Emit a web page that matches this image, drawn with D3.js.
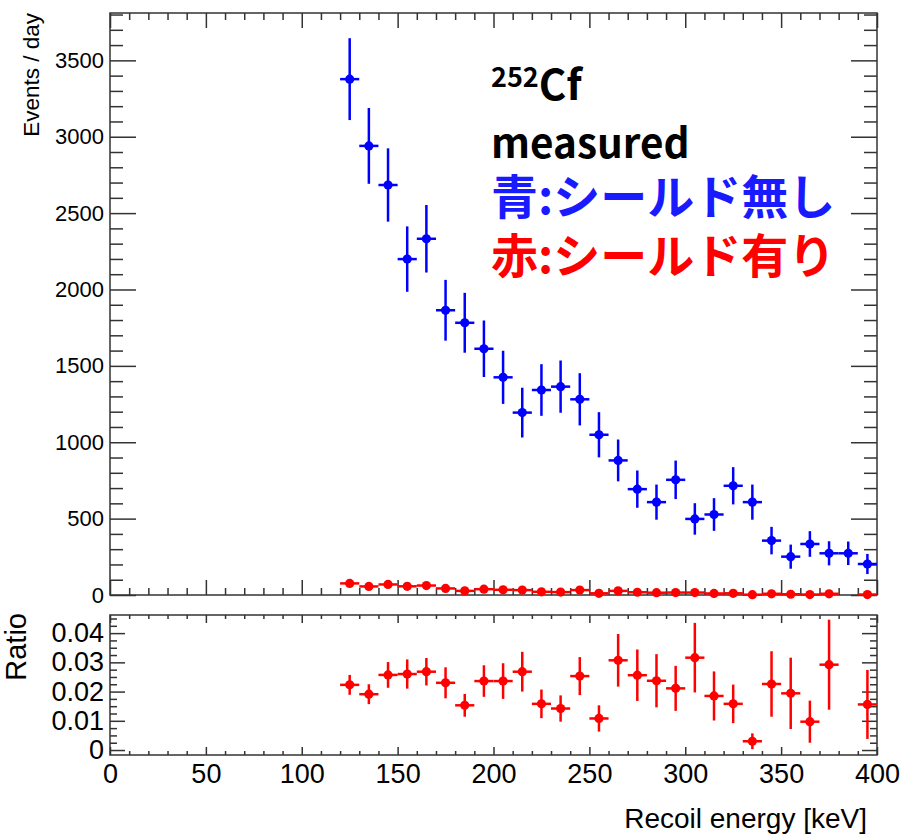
<!DOCTYPE html>
<html><head><meta charset="utf-8">
<script src="https://cdn.jsdelivr.net/npm/d3@7"></script>
<style>html,body{margin:0;padding:0;background:#fff;}</style>
</head><body>
<script>
// ---- data ----
const energies = [125,135,145,155,165,175,185,195,205,215,225,235,245,255,265,275,285,295,305,315,325,335,345,355,365,375,385,395];
const binHalfWidth = 5;
const blueVals = [3377,2940,2684,2199,2332,1864,1782,1612,1425,1194,1342,1364,1281,1049,881,693,608,754,498,527,715,608,356,251,334,273,273,203];
const blueErrs = [268,248,240,214,221,199,196,185,174,163,169,171,171,148,137,122,115,126,103,107,122,115,90,79,84,79,77,66];
const redVals  = [76,56,69,57,62,43,27,38,34,32,21,19,32,11,27,18,15,16,16,10,11,2,8,5,3,8,null,3];
const ratioVals = [0.0223,0.0191,0.0257,0.0260,0.0268,0.0230,0.0153,0.0236,0.0236,0.0268,0.0158,0.0142,0.0253,0.0108,0.0307,0.0256,0.0237,0.0211,0.0316,0.0185,0.0158,0.0030,0.0226,0.0194,0.0097,0.0292,null,0.0156];
const ratioErrs = [0.0034,0.0034,0.0044,0.0050,0.0047,0.0053,0.0039,0.0054,0.0061,0.0068,0.0049,0.0045,0.0065,0.0045,0.0090,0.0088,0.0091,0.0077,0.0119,0.0084,0.0066,0.0027,0.0112,0.0122,0.0072,0.0154,null,0.0118];
const xTicks = [0,50,100,150,200,250,300,350,400];
const yTopTicks = [0,500,1000,1500,2000,2500,3000,3500];
const yRatioTicks = [0,0.01,0.02,0.03,0.04];
const yRatioLabels = ["0","0.01","0.02","0.03","0.04"];

const W = 903, H = 837;
const svg = d3.select("body").append("svg").attr("width", W).attr("height", H)
  .style("font-family", "'Liberation Sans', Arial, sans-serif");

const x = d3.scaleLinear().domain([0, 400]).range([110, 877]);
const yTop = d3.scaleLinear().domain([0, 3810]).range([595, 13]);
const yR = d3.scaleLinear().domain([-0.0017, 0.0462]).range([755, 615]);

const FR = "#333";
const xMinor = d3.range(0, 401, 10).filter(v => v % 50 !== 0);
const yTopMinor = d3.range(100, 3801, 100).filter(v => v % 500 !== 0);
const yRMinor = d3.range(0, 0.0461, 0.0025).map(v => +v.toFixed(4)).filter(v => Math.abs(v*100 - Math.round(v*100)) > 1e-6);

function styleAxis(g, size) {
  g.select(".domain").remove();
  g.selectAll(".tick line").attr("stroke", FR).attr("stroke-width", 1.5);
  g.selectAll("text").attr("fill", "#000").attr("font-size", size)
    .attr("font-family", "'Liberation Sans', Arial, sans-serif");
}

function ticksY(scale, major, minor, majLen, minLen, x0, x1, labels, fsize, fmt) {
  svg.append("g").attr("transform", `translate(${x0},0)`)
    .call(d3.axisLeft(scale).tickValues(major).tickSizeInner(-majLen).tickSizeOuter(0).tickPadding(6)
      .tickFormat(labels ? fmt : () => ""))
    .call(g => styleAxis(g, fsize));
  svg.append("g").attr("transform", `translate(${x0},0)`)
    .call(d3.axisLeft(scale).tickValues(minor).tickSizeInner(-minLen).tickSizeOuter(0).tickFormat(() => ""))
    .call(g => styleAxis(g, fsize));
  svg.append("g").attr("transform", `translate(${x1},0)`)
    .call(d3.axisRight(scale).tickValues(major).tickSizeInner(-majLen).tickSizeOuter(0).tickFormat(() => ""))
    .call(g => styleAxis(g, fsize));
  svg.append("g").attr("transform", `translate(${x1},0)`)
    .call(d3.axisRight(scale).tickValues(minor).tickSizeInner(-minLen).tickSizeOuter(0).tickFormat(() => ""))
    .call(g => styleAxis(g, fsize));
}
function ticksX(y0, y1, majLen, minLen, labels) {
  svg.append("g").attr("transform", `translate(0,${y0})`)
    .call(d3.axisBottom(x).tickValues(xTicks).tickSizeInner(-majLen).tickSizeOuter(0).tickPadding(9)
      .tickFormat(labels ? d3.format("d") : () => ""))
    .call(g => styleAxis(g, 27));
  svg.append("g").attr("transform", `translate(0,${y0})`)
    .call(d3.axisBottom(x).tickValues(xMinor).tickSizeInner(-minLen).tickSizeOuter(0).tickFormat(() => ""))
    .call(g => styleAxis(g, 27));
  svg.append("g").attr("transform", `translate(0,${y1})`)
    .call(d3.axisTop(x).tickValues(xTicks).tickSizeInner(-majLen).tickSizeOuter(0).tickFormat(() => ""))
    .call(g => styleAxis(g, 27));
  svg.append("g").attr("transform", `translate(0,${y1})`)
    .call(d3.axisTop(x).tickValues(xMinor).tickSizeInner(-minLen).tickSizeOuter(0).tickFormat(() => ""))
    .call(g => styleAxis(g, 27));
}

ticksY(yTop, yTopTicks, yTopMinor, 26, 13, 110, 877, true, 22, d3.format("d"));
ticksX(595, 13, 15, 7, false);
svg.append("rect").attr("x", 110).attr("y", 13).attr("width", 767).attr("height", 582)
  .attr("fill", "none").attr("stroke", FR).attr("stroke-width", 1.5);

ticksY(yR, yRatioTicks, yRMinor, 15, 7, 110, 877, true, 27, (d, i) => yRatioLabels[i]);
ticksX(755, 615, 8, 4, true);
svg.append("rect").attr("x", 110).attr("y", 615).attr("width", 767).attr("height", 140)
  .attr("fill", "none").attr("stroke", FR).attr("stroke-width", 1.5);

// ---- data marks ----
function drawSeries(vals, errs, scale, color) {
  const g = svg.append("g");
  const pts = energies.map((e, i) => ({e, v: vals[i], err: errs ? errs[i] : null})).filter(d => d.v !== null);
  g.selectAll("line.h").data(pts).join("line")
    .attr("x1", d => x(d.e - binHalfWidth)).attr("x2", d => x(d.e + binHalfWidth))
    .attr("y1", d => scale(d.v)).attr("y2", d => scale(d.v))
    .attr("stroke", color).attr("stroke-width", 2.5);
  if (errs) {
    g.selectAll("line.v").data(pts).join("line")
      .attr("x1", d => x(d.e)).attr("x2", d => x(d.e))
      .attr("y1", d => scale(d.v - d.err)).attr("y2", d => scale(d.v + d.err))
      .attr("stroke", color).attr("stroke-width", 2.5);
  }
  g.selectAll("circle").data(pts).join("circle")
    .attr("cx", d => x(d.e)).attr("cy", d => scale(d.v)).attr("r", 4.6).attr("fill", color);
}
drawSeries(blueVals, blueErrs, yTop, "#0000ff");
drawSeries(redVals, null, yTop, "#ff0000");
drawSeries(ratioVals, ratioErrs, yR, "#ff0000");

// ---- axis titles ----
svg.append("text").attr("transform", "translate(39,13) rotate(-90)").attr("text-anchor", "end")
  .attr("font-size", 22.5).text("Events / day");
svg.append("text").attr("transform", "translate(26,613) rotate(-90)").attr("text-anchor", "end")
  .attr("font-size", 29).text("Ratio");
svg.append("text").attr("x", 867).attr("y", 828).attr("text-anchor", "end")
  .attr("font-size", 28).text("Recoil energy [keV]");

// ---- annotations ----
const jp = "'Noto Sans CJK JP', 'Noto Sans', sans-serif";
const t1 = svg.append("text").attr("x", 491).attr("y", 100).attr("font-family", jp).attr("font-weight", "bold").attr("fill", "#000");
t1.append("tspan").attr("font-size", 27).attr("dy", -13).text("252");
t1.append("tspan").attr("font-size", 42).attr("dy", 13).text("Cf");
svg.append("text").attr("x", 491).attr("y", 158).attr("font-family", jp).attr("font-weight", "bold")
  .attr("font-size", 40.5).attr("fill", "#000").text("measured");
svg.append("text").attr("x", 491).attr("y", 214).attr("font-family", jp).attr("font-weight", "bold")
  .attr("font-size", 47).attr("fill", "#1a1aff").text("青:シールド無し");
svg.append("text").attr("x", 491).attr("y", 273).attr("font-family", jp).attr("font-weight", "bold")
  .attr("font-size", 47).attr("fill", "#ff0000").text("赤:シールド有り");
</script>
</body></html>
